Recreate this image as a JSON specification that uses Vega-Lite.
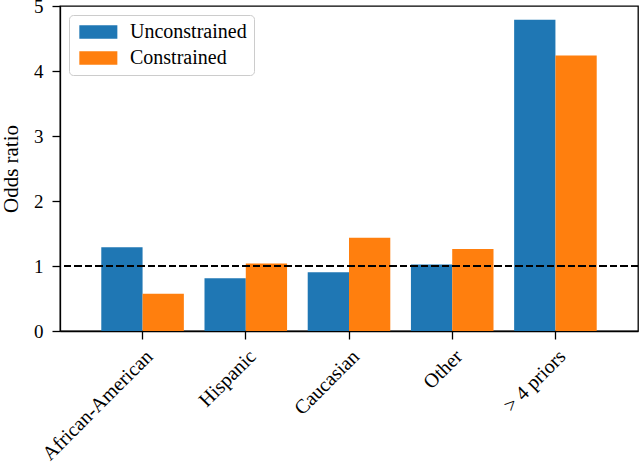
{
  "$schema": "https://vega.github.io/schema/vega-lite/v6.json",
  "width": 578,
  "height": 325,
  "autosize": {"type": "none"},
  "padding": {"left": 60, "top": 6, "right": 2, "bottom": 133},
  "config": {
    "font": "Liberation Serif",
    "view": {"stroke": "black", "strokeWidth": 1.3},
    "axis": {
      "domainColor": "black", "domainWidth": 1.3,
      "tickColor": "black", "tickWidth": 1.3, "tickSize": 8,
      "labelColor": "black", "labelFont": "Liberation Serif", "labelFontSize": 19,
      "titleColor": "black", "titleFont": "Liberation Serif", "titleFontSize": 21, "titleFontWeight": "normal",
      "grid": false
    }
  },
  "data": {
    "values": [
      {"group": "African-American", "model": "Unconstrained", "value": 1.29},
      {"group": "African-American", "model": "Constrained", "value": 0.575},
      {"group": "Hispanic", "model": "Unconstrained", "value": 0.81},
      {"group": "Hispanic", "model": "Constrained", "value": 1.04},
      {"group": "Caucasian", "model": "Unconstrained", "value": 0.905},
      {"group": "Caucasian", "model": "Constrained", "value": 1.435},
      {"group": "Other", "model": "Unconstrained", "value": 1.025},
      {"group": "Other", "model": "Constrained", "value": 1.26},
      {"group": "> 4 priors", "model": "Unconstrained", "value": 4.79},
      {"group": "> 4 priors", "model": "Constrained", "value": 4.24}
    ]
  },
  "layer": [
    {
      "mark": {"type": "bar"},
      "encoding": {
        "x": {
          "field": "group", "type": "nominal", "sort": null,
          "scale": {"paddingInner": 0.2, "paddingOuter": 0.4},
          "axis": {"title": null, "labelAngle": -45, "labelPadding": 7, "labelFontSize": 20, "labelDx": -5}
        },
        "xOffset": {
          "field": "model", "type": "nominal",
          "sort": ["Unconstrained", "Constrained"],
          "scale": {"paddingInner": 0, "paddingOuter": 0}
        },
        "y": {
          "field": "value", "type": "quantitative",
          "scale": {"domain": [0, 5], "nice": false},
          "axis": {"title": "Odds ratio", "values": [0, 1, 2, 3, 4, 5], "format": "d", "labelPadding": 9, "titlePadding": 12}
        },
        "color": {
          "field": "model", "type": "nominal",
          "scale": {"domain": ["Unconstrained", "Constrained"], "range": ["#1f77b4", "#ff7f0e"]},
          "legend": {
            "title": null,
            "orient": "none",
            "legendX": 9,
            "legendY": 9,
            "symbolType": "M-1,-1H4.7V1H-1Z",
            "symbolSize": 178,
            "symbolStrokeWidth": 0,
            "symbolOpacity": 1,
            "labelFontSize": 20,
            "labelColor": "black",
            "labelOffset": 34,
            "rowPadding": 6,
            "padding": 7,
            "strokeColor": "#cccccc",
            "fillColor": "white",
            "cornerRadius": 4
          }
        }
      }
    },
    {
      "mark": {"type": "rule", "color": "black", "strokeWidth": 1.8, "strokeDash": [7, 3.5]},
      "encoding": {"y": {"datum": 1}}
    }
  ]
}
